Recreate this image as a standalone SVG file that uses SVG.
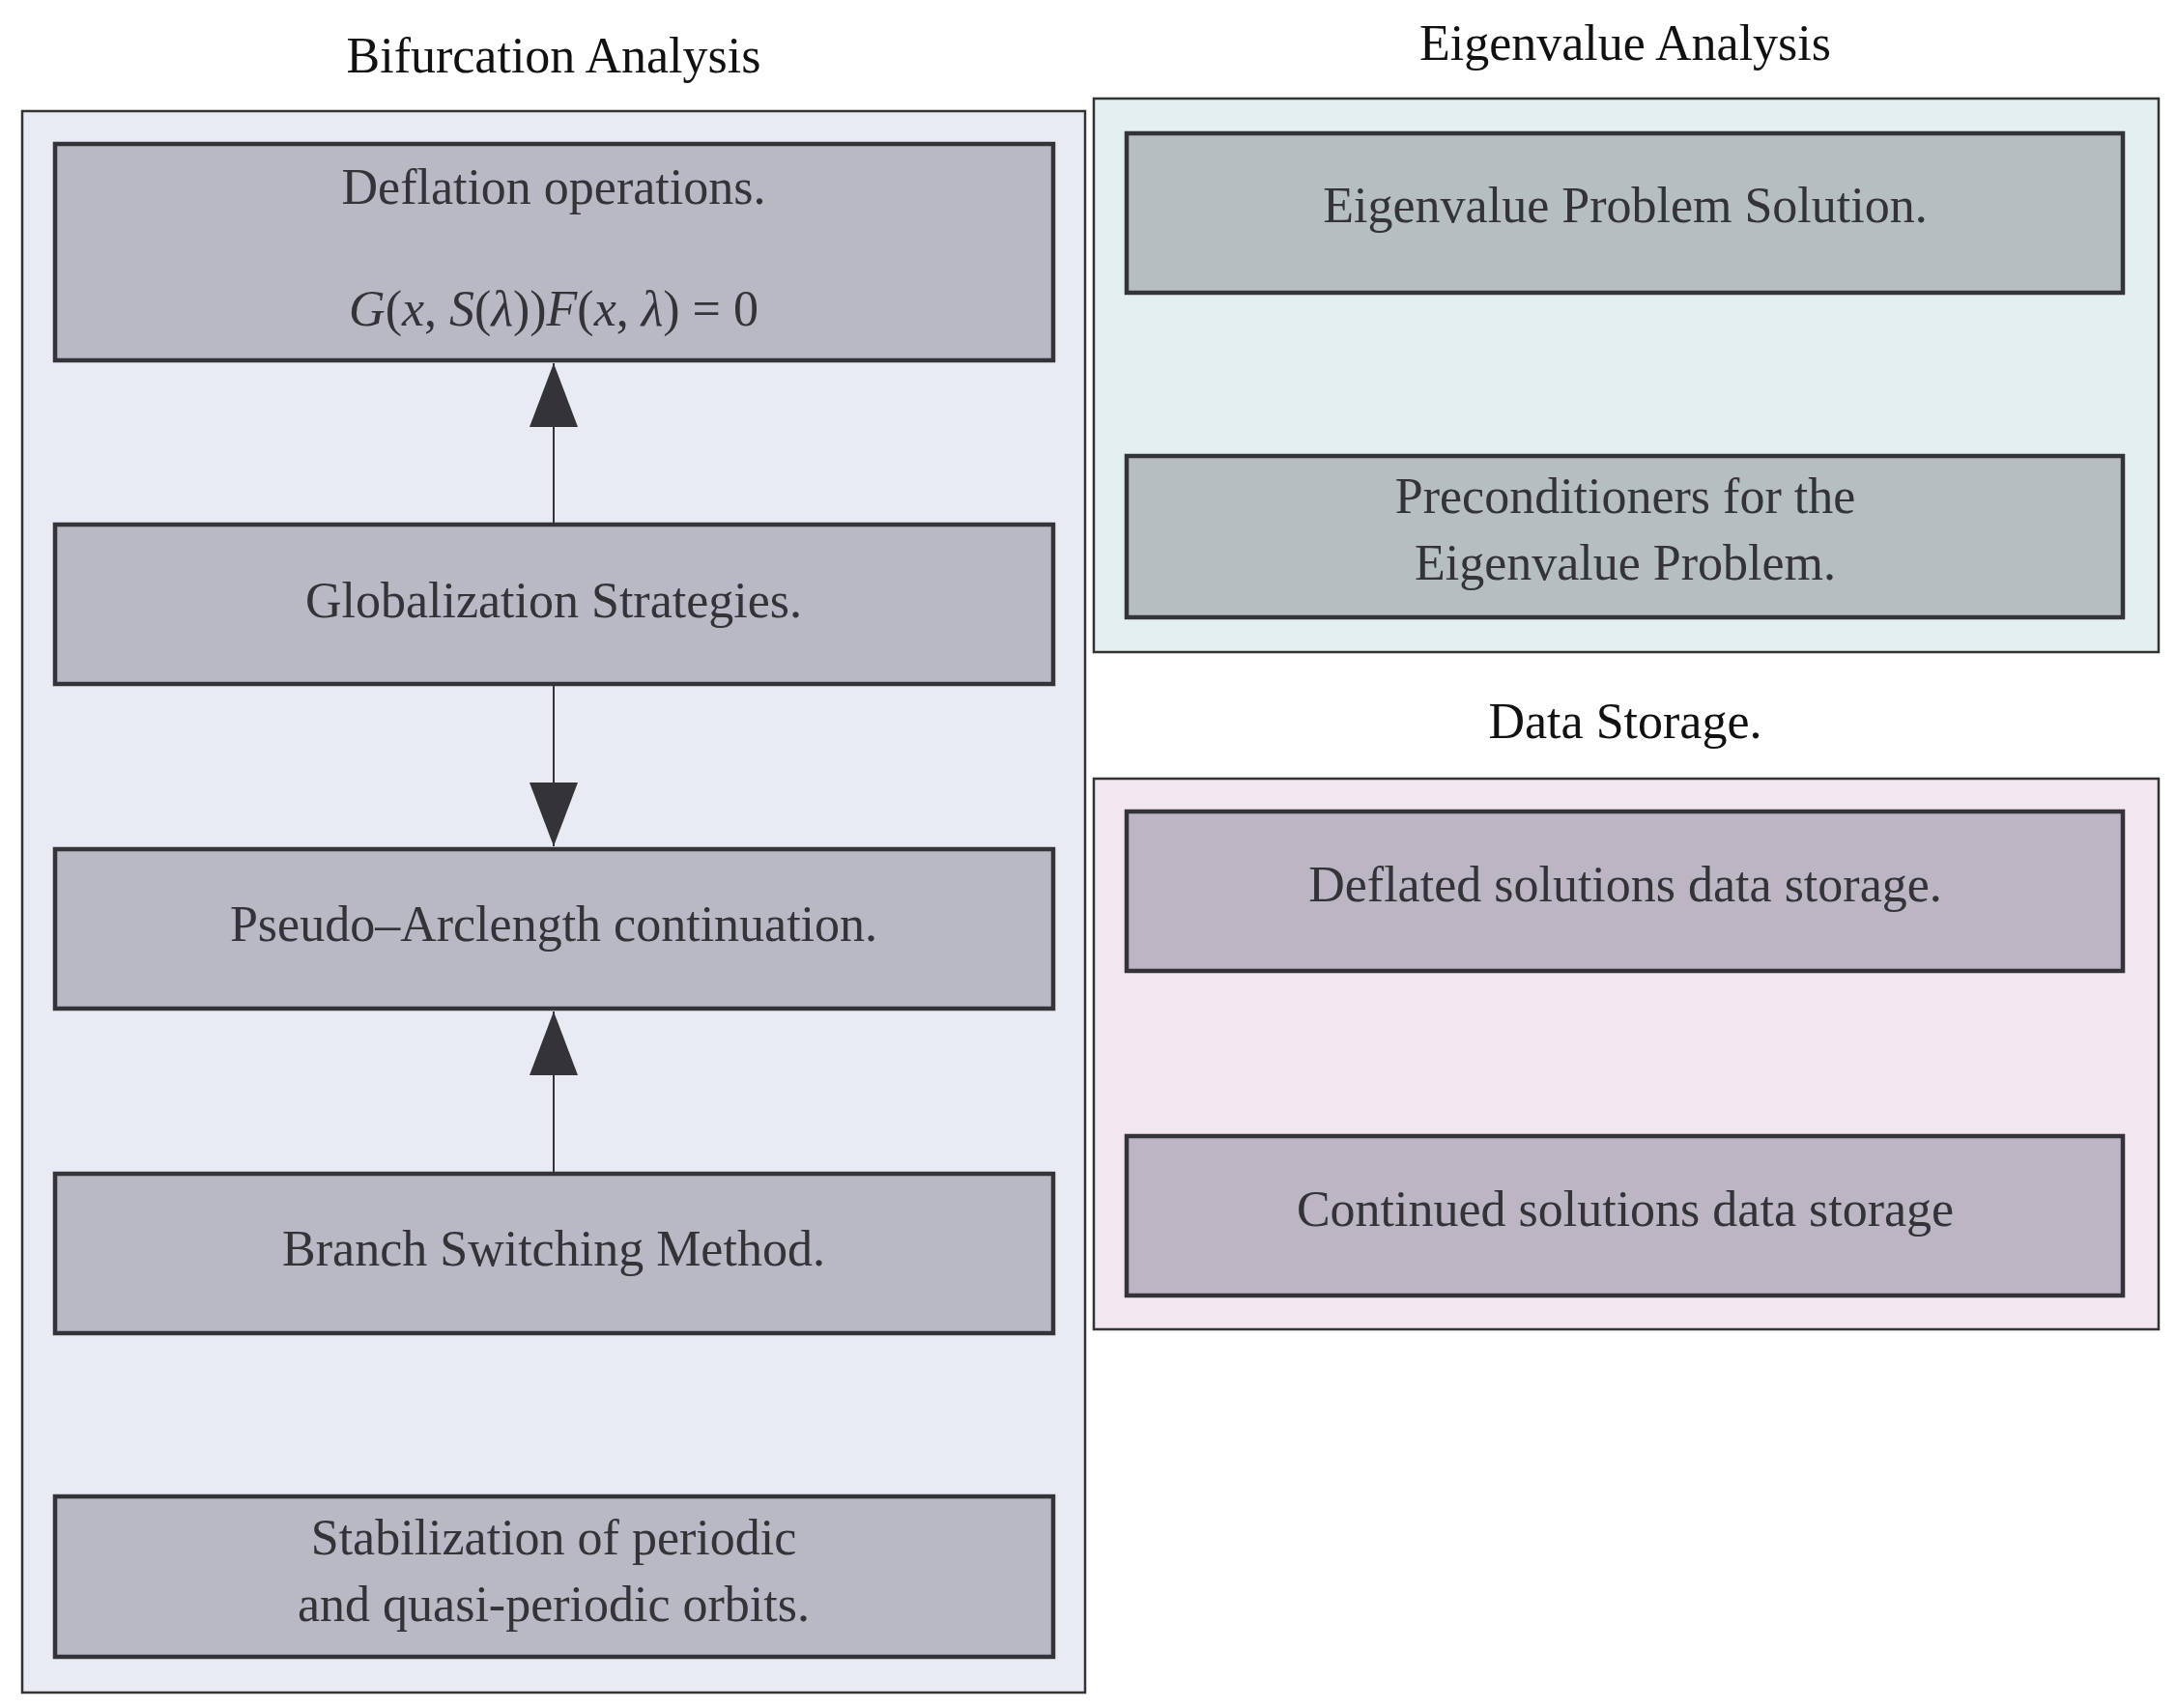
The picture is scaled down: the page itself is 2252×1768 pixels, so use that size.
<svg xmlns="http://www.w3.org/2000/svg" width="2252" height="1768" viewBox="0 0 2252 1768">
<style>
text{font-family:"Liberation Serif","DejaVu Serif",serif;font-size:52px;text-anchor:middle}
.t{fill:#111}
.n{fill:#333338}
.cl{stroke:#333;stroke-width:2.5}
.nd{stroke:#333338;stroke-width:4.5}
.e{stroke:#333338;stroke-width:2;fill:none}
</style>
<defs>
<marker id="ah" markerUnits="userSpaceOnUse" viewBox="0 0 66 50" refX="66" refY="25" markerWidth="66" markerHeight="50" orient="auto"><path d="M0,0 L66,25 L0,50 z" fill="#333338"/></marker>
</defs>
<rect width="2252" height="1768" fill="#fff"/>
<g id="cluster-bifurcation">
<rect class="cl" x="23" y="115" width="1100" height="1637" fill="#e8ebf4"/>
<text class="t" x="573" y="75">Bifurcation Analysis</text>
</g>
<g id="cluster-eigen">
<rect class="cl" x="1132" y="102" width="1102" height="573" fill="#e4f0f0"/>
<text class="t" x="1682" y="62">Eigenvalue Analysis</text>
</g>
<g id="cluster-data">
<rect class="cl" x="1132" y="806" width="1102" height="570" fill="#f2e6f0"/>
<text class="t" x="1682" y="764">Data Storage.</text>
</g>
<g id="deflation">
<rect class="nd" x="57" y="149" width="1033" height="224" fill="#b8b9c5"/>
<text class="n" x="573" y="211">Deflation operations.</text>
<text class="n" x="573" y="337"><tspan font-style="italic">G</tspan>(<tspan font-style="italic">x</tspan>, <tspan font-style="italic">S</tspan>(<tspan font-style="italic">λ</tspan>))<tspan font-style="italic">F</tspan>(<tspan font-style="italic">x</tspan>, <tspan font-style="italic">λ</tspan>) = 0</text>
</g>
<g id="globalization">
<rect class="nd" x="57" y="543" width="1033" height="165" fill="#b8b9c5"/>
<text class="n" x="573" y="639">Globalization Strategies.</text>
</g>
<g id="pseudo">
<rect class="nd" x="57" y="879" width="1033" height="165" fill="#b8b9c5"/>
<text class="n" x="573" y="974">Pseudo–Arclength continuation.</text>
</g>
<g id="branch">
<rect class="nd" x="57" y="1215" width="1033" height="165" fill="#b8b9c5"/>
<text class="n" x="573" y="1310">Branch Switching Method.</text>
</g>
<g id="stabilization">
<rect class="nd" x="57" y="1549" width="1033" height="166" fill="#b8b9c5"/>
<text class="n" x="573" y="1609">Stabilization of periodic</text>
<text class="n" x="573" y="1678">and quasi-periodic orbits.</text>
</g>
<g id="eigsol">
<rect class="nd" x="1166" y="138" width="1031" height="165" fill="#b6bec0"/>
<text class="n" x="1682" y="230">Eigenvalue Problem Solution.</text>
</g>
<g id="precond">
<rect class="nd" x="1166" y="472" width="1031" height="167" fill="#b6bec0"/>
<text class="n" x="1682" y="531">Preconditioners for the</text>
<text class="n" x="1682" y="600">Eigenvalue Problem.</text>
</g>
<g id="deflated-storage">
<rect class="nd" x="1166" y="840" width="1031" height="165" fill="#bcb6c4"/>
<text class="n" x="1682" y="933">Deflated solutions data storage.</text>
</g>
<g id="continued-storage">
<rect class="nd" x="1166" y="1176" width="1031" height="165" fill="#bcb6c4"/>
<text class="n" x="1682" y="1269">Continued solutions data storage</text>
</g>
<g id="edges">
<line class="e" x1="573" y1="543" x2="573" y2="376" marker-end="url(#ah)"/>
<line class="e" x1="573" y1="708" x2="573" y2="876" marker-end="url(#ah)"/>
<line class="e" x1="573" y1="1215" x2="573" y2="1047" marker-end="url(#ah)"/>
</g>
</svg>
